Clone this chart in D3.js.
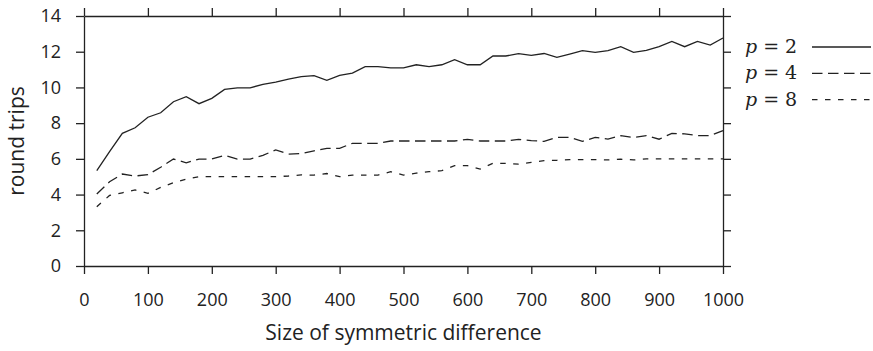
<!DOCTYPE html>
<html>
<head>
<meta charset="utf-8">
<script src="https://cdn.jsdelivr.net/npm/d3@7"></script>
<style>
  body { margin: 0; background: #fff; }
  svg { display: block; }
</style>
</head>
<body>
<div class="chart"></div>
<script>
// x values: set sizes 20..1000
const sizes = [20, 40, 60, 80, 100, 120, 140, 160, 180, 200,
  220, 240, 260, 280, 300, 320, 340, 360, 380, 400,
  420, 440, 460, 480, 500, 520, 540, 560, 580, 600,
  620, 640, 660, 680, 700, 720, 740, 760, 780, 800,
  820, 840, 860, 880, 900, 920, 940, 960, 980, 1000];

const roundTripsP2 = [5.34, 6.4, 7.43, 7.74, 8.33, 8.58, 9.2, 9.48, 9.09, 9.39,
  9.89, 9.98, 9.98, 10.17, 10.3, 10.47, 10.6, 10.66, 10.4, 10.68,
  10.8, 11.16, 11.16, 11.09, 11.09, 11.27, 11.16, 11.27, 11.55, 11.27,
  11.27, 11.76, 11.76, 11.89, 11.8, 11.9, 11.68, 11.87, 12.06, 11.96,
  12.06, 12.28, 11.96, 12.07, 12.28, 12.58, 12.28, 12.58, 12.37, 12.77];

const roundTripsP4 = [4.03, 4.72, 5.15, 5.04, 5.12, 5.53, 5.99, 5.78, 5.99, 5.99,
  6.2, 5.99, 5.99, 6.2, 6.5, 6.27, 6.3, 6.45, 6.59, 6.59,
  6.87, 6.87, 6.87, 7.0, 7.0, 7.0, 7.0, 7.0, 7.0, 7.09,
  7.0, 7.0, 7.0, 7.09, 7.02, 6.98, 7.2, 7.2, 6.98, 7.2,
  7.11, 7.3, 7.2, 7.3, 7.1, 7.43, 7.4, 7.3, 7.3, 7.58];

const roundTripsP8 = [3.32, 3.95, 4.1, 4.26, 4.07, 4.4, 4.66, 4.87, 5.0, 5.0,
  5.0, 5.0, 5.0, 5.0, 5.0, 5.04, 5.1, 5.09, 5.18, 5.0,
  5.09, 5.09, 5.09, 5.28, 5.09, 5.2, 5.28, 5.34, 5.62, 5.62,
  5.43, 5.75, 5.75, 5.7, 5.8, 5.9, 5.92, 5.96, 5.96, 5.96,
  5.94, 5.98, 5.94, 6.0, 6.0, 6.0, 6.0, 6.0, 6.0, 6.0];

const seriesLabels = ["2", "4", "8"];
const xTicks = [0, 100, 200, 300, 400, 500, 600, 700, 800, 900, 1000];
const yTicks = [0, 2, 4, 6, 8, 10, 12, 14];

const width = 873, height = 351;
const margin = { left: 84, right: 150, top: 16, bottom: 85 };

const svg = d3.select(".chart").append("svg")
  .attr("width", width)
  .attr("height", height);

const x = d3.scaleLinear().domain([0, 1000]).range([margin.left, width - margin.right]);
const y = d3.scaleLinear().domain([0, 14]).range([height - margin.bottom, margin.top]);

const tickFont = "'Open Sans', sans-serif";
const ink = "#222";

// frame with outward ticks on every side
function styleAxis(g) {
  g.select(".domain").attr("stroke", ink).attr("stroke-width", 1.3);
  g.selectAll(".tick line").attr("stroke", ink).attr("stroke-width", 1.3);
  g.selectAll(".tick text")
    .attr("fill", ink)
    .style("font-family", tickFont)
    .style("font-size", "18px");
}

svg.append("g")
  .attr("transform", `translate(0,${y(0)})`)
  .call(d3.axisBottom(x).tickValues(xTicks).tickSize(8).tickPadding(19)
    .tickFormat(d3.format("d")).tickSizeOuter(0))
  .call(styleAxis);

svg.append("g")
  .attr("transform", `translate(0,${y(14)})`)
  .call(d3.axisTop(x).tickValues(xTicks).tickSize(8).tickFormat("").tickSizeOuter(0))
  .call(styleAxis);

svg.append("g")
  .attr("transform", `translate(${x(0)},0)`)
  .call(d3.axisLeft(y).tickValues(yTicks).tickSize(8).tickPadding(15).tickSizeOuter(0))
  .call(styleAxis);

svg.append("g")
  .attr("transform", `translate(${x(1000)},0)`)
  .call(d3.axisRight(y).tickValues(yTicks).tickSize(8).tickFormat("").tickSizeOuter(0))
  .call(styleAxis);

// axis titles
svg.append("text")
  .attr("x", (x(0) + x(1000)) / 2)
  .attr("y", 340)
  .attr("text-anchor", "middle")
  .attr("fill", ink)
  .style("font-family", tickFont)
  .style("font-size", "21px")
  .text("Size of symmetric difference");

svg.append("text")
  .attr("transform", `translate(24,${(y(0) + y(14)) / 2}) rotate(-90)`)
  .attr("text-anchor", "middle")
  .attr("fill", ink)
  .style("font-family", tickFont)
  .style("font-size", "21px")
  .text("round trips");

// series
const series = [
  { label: seriesLabels[0], values: roundTripsP2, dash: null },
  { label: seriesLabels[1], values: roundTripsP4, dash: "10.5,5.5" },
  { label: seriesLabels[2], values: roundTripsP8, dash: "5.5,7.5" }
];

const line = d3.line()
  .x((d, i) => x(sizes[i]))
  .y(d => y(d));

svg.append("g")
  .selectAll("path")
  .data(series)
  .join("path")
  .attr("d", d => line(d.values))
  .attr("fill", "none")
  .attr("stroke", ink)
  .attr("stroke-width", 1.3)
  .attr("stroke-dasharray", d => d.dash);

// legend
const legend = svg.append("g")
  .selectAll("g")
  .data(series)
  .join("g")
  .attr("transform", (d, i) => `translate(745,${47 + i * 26.3})`);

legend.append("text")
  .attr("y", 6)
  .attr("fill", ink)
  .style("font-family", "'DejaVu Serif', serif")
  .style("font-size", "19px")
  .call(t => {
    t.append("tspan").style("font-style", "italic").text("p");
    t.append("tspan").attr("dx", 6).text("=");
    t.append("tspan").attr("dx", 6).text(d => d.label);
  });

legend.append("line")
  .attr("x1", 67)
  .attr("x2", 126)
  .attr("stroke", ink)
  .attr("stroke-width", 1.3)
  .attr("stroke-dasharray", d => d.dash);
</script>
</body>
</html>
